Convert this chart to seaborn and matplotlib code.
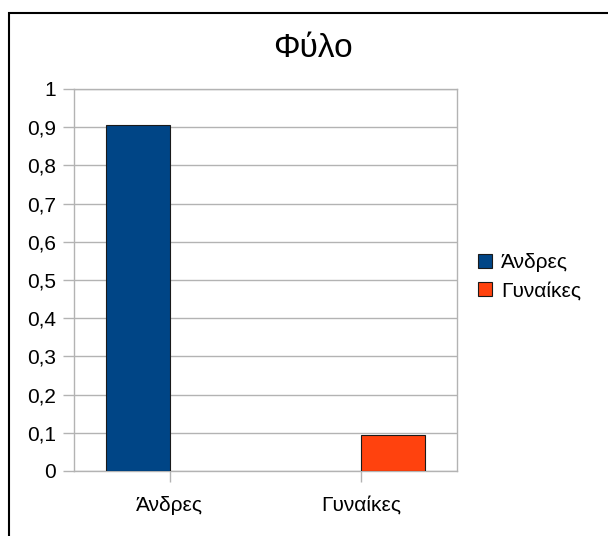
import matplotlib
matplotlib.use('Agg')
import matplotlib.pyplot as plt
import matplotlib.patches as mpatches
import pandas as pd
import seaborn as sns

# data
categories = ['Άνδρες', 'Γυναίκες']
values = [0.906, 0.094]
colors = ['#004586', '#ff420e']
y_ticks = [0, 0.1, 0.2, 0.3, 0.4, 0.5, 0.6, 0.7, 0.8, 0.9, 1]
y_tick_labels = ['0', '0,1', '0,2', '0,3', '0,4', '0,5', '0,6', '0,7', '0,8', '0,9', '1']
title = 'Φύλο'

GRID = '#b3b3b3'

sns.set_style('white')
plt.rcParams['font.family'] = ['Liberation Sans', 'DejaVu Sans']
plt.rcParams['text.color'] = 'black'

df = pd.DataFrame({'cat': categories, 'val': values})

fig = plt.figure(figsize=(6.08, 5.36), dpi=100)
ax = fig.add_axes([74 / 608, 65 / 536, 383 / 608, 382 / 536])

sns.barplot(data=df, x='cat', y='val', hue='cat', palette=colors, dodge=True,
            saturation=1, width=2 / 3, edgecolor='#1a1a1a', linewidth=0.8,
            legend=False, ax=ax, zorder=3)

ax.set_ylim(0, 1)
ax.set_xlim(-0.5, 1.5)
ax.set_yticks(y_ticks)
ax.set_yticklabels(y_tick_labels)
ax.yaxis.grid(True, color=GRID, linewidth=1, zorder=0)
ax.set_axisbelow(True)
ax.set_xlabel('')
ax.set_ylabel('')
for s in ax.spines.values():
    s.set_color(GRID)
    s.set_linewidth(1)
ax.tick_params(axis='both', colors=GRID, labelcolor='black', labelsize=15,
               length=8, width=1, pad=5, left=True, bottom=True)
ax.tick_params(axis='x', pad=10)

fig.text(313 / 608, 1 - 57 / 536, title, ha='center', va='baseline', fontsize=24,
         color='black')

handles = [mpatches.Patch(facecolor=c, edgecolor='#1a1a1a', linewidth=0.8) for c in colors]
fig.legend(handles, categories, loc='center left', bbox_to_anchor=(478 / 608, 1 - 277 / 536),
           frameon=False, fontsize=15, handlelength=0.65, handleheight=0.65,
           handletextpad=0.45, labelspacing=0.45, borderaxespad=0, borderpad=0)

# outer frame, right and bottom edges fall outside the image
fig.patches.append(mpatches.Rectangle((9 / 608, -0.1), 1.2, 1 - 13 / 536 + 0.1,
                                      transform=fig.transFigure, fill=False,
                                      edgecolor='black', linewidth=1.5))

fig.savefig('out.png', dpi=100)
